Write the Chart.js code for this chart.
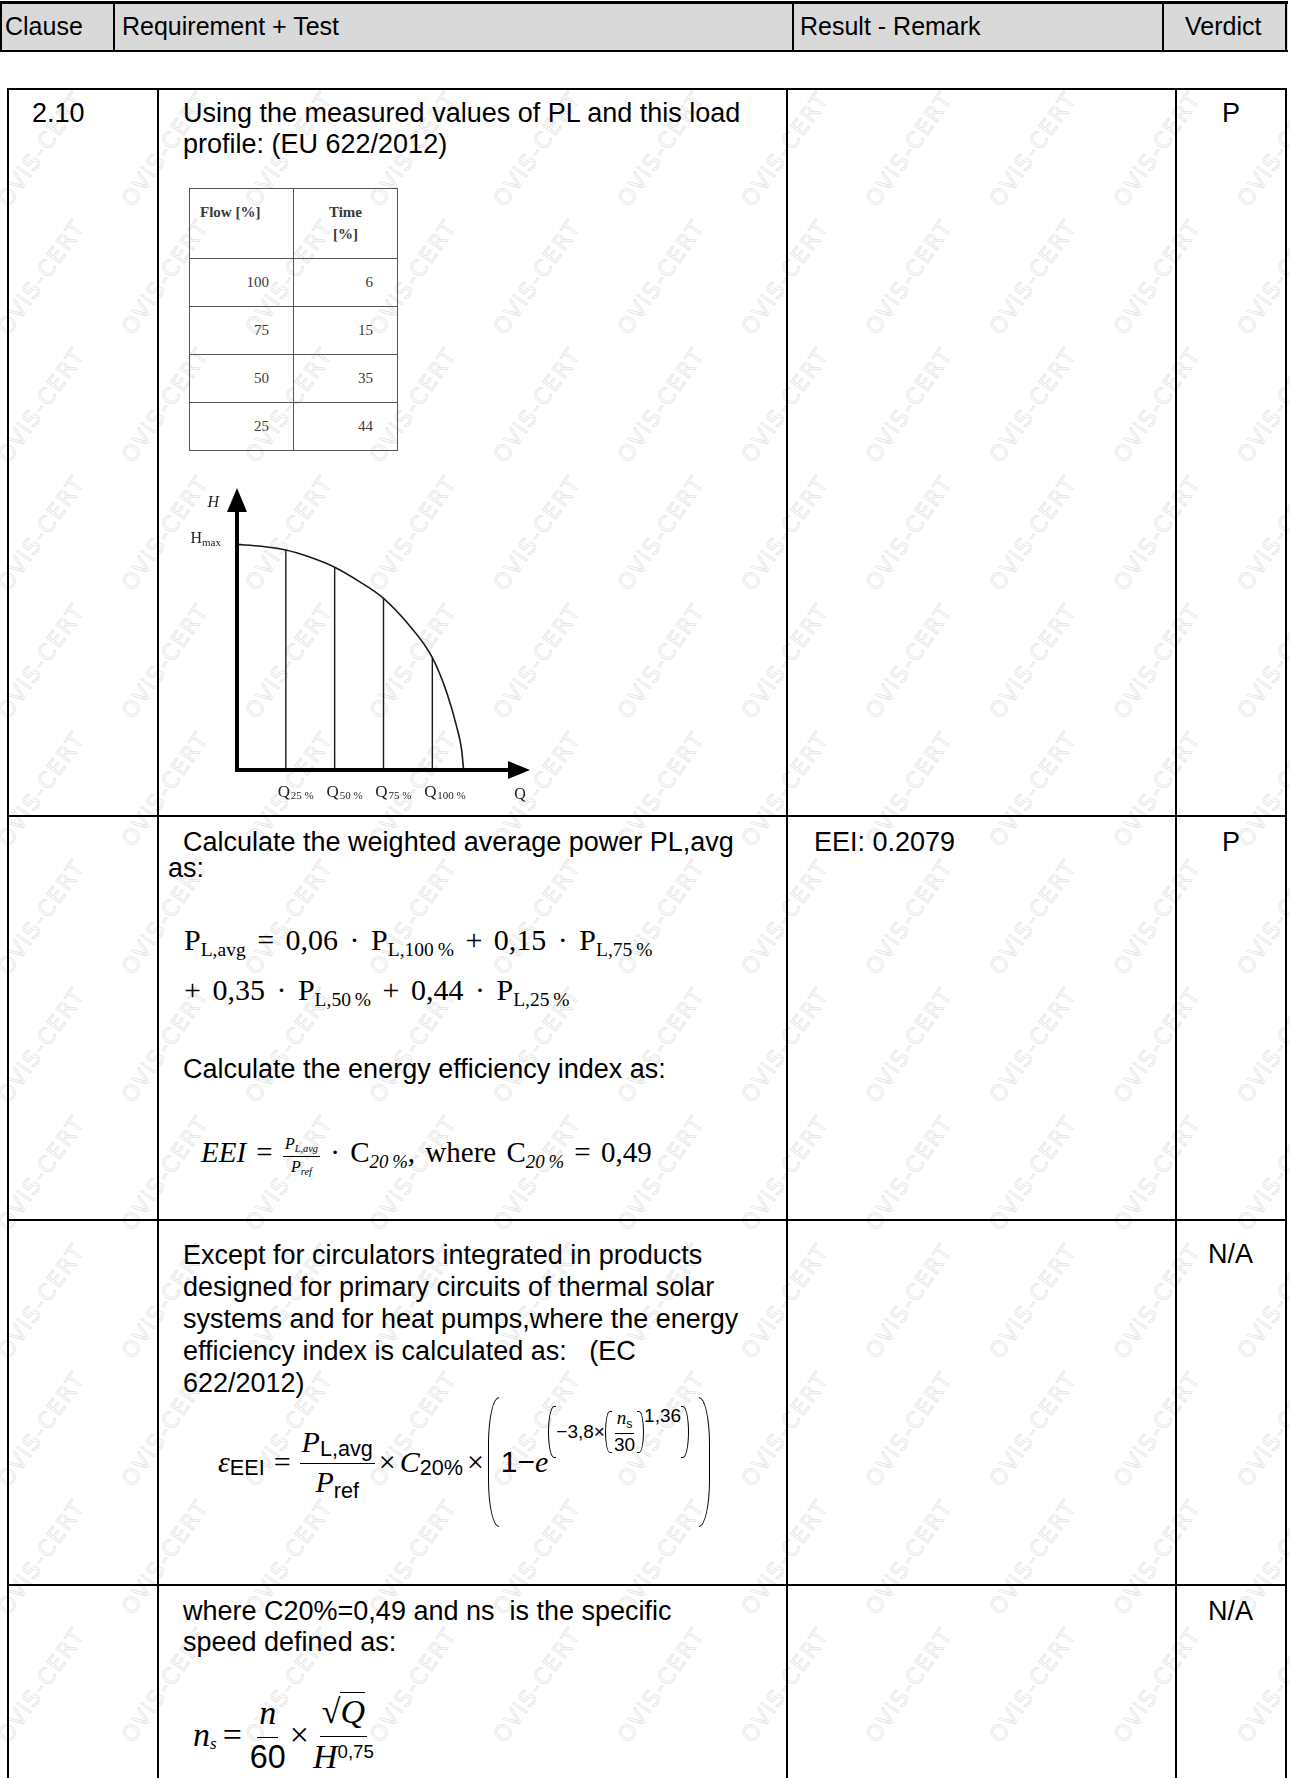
<!DOCTYPE html>
<html>
<head>
<meta charset="utf-8">
<script src="https://cdn.jsdelivr.net/npm/chart.js@4.4.0/dist/chart.umd.min.js"></script>
<style>
body{margin:0;background:#fff}
#page{position:relative;width:1290px;height:1778px;overflow:hidden;background:#fff;font-family:"Liberation Sans",Arial,sans-serif;color:#000}
.ln{position:absolute;background:#000}
.t{position:absolute;font-size:27px;line-height:31px;white-space:nowrap}
.h{position:absolute;font-size:25px;line-height:49px;top:2px;white-space:nowrap}
.wm{position:absolute;font:22px "DejaVu Sans",sans-serif;letter-spacing:2px;color:transparent;-webkit-text-stroke:0.6px #dadada;transform:translate(-50%,-50%) rotate(-55deg);white-space:nowrap}
.f{position:absolute;font-family:"Liberation Serif","Times New Roman",serif;white-space:nowrap}
.sb{font-size:.65em;position:relative;top:.3em}
.sp{font-size:.65em;position:relative;top:-.55em}
.ss{font-family:"Liberation Sans",Arial,sans-serif;font-style:normal}
.frac{display:inline-flex;flex-direction:column;align-items:center;vertical-align:middle}
.frac>span{padding:0 2px;line-height:1.2}
.frac>span:first-child{border-bottom:1.3px solid #000;padding-bottom:3px}
.bp{display:inline-block;border:1.4px solid #000;width:10px}
.bp.l{border-right:none;border-radius:14px 0 0 14px/60px 0 0 60px}
.bp.r{border-left:none;border-radius:0 14px 14px 0/0 60px 60px 0}
#flow{position:absolute;left:189px;top:188px;border-collapse:collapse;font-family:"Liberation Serif",serif;font-size:15px;color:#3a3a3a}
#flow td{border:1.5px solid #555;width:104px;padding:0 24px 0 0;text-align:right;height:48px;box-sizing:border-box}
#flow tr:first-child td{height:70px;vertical-align:top;padding-top:12px;font-weight:bold;line-height:22px}
#chartBox{position:absolute;left:190px;top:415px;width:370px;height:395px}
</style>
</head>
<body>
<div id="page">
  <div id="wms"></div>

  <!-- header -->
  <div style="position:absolute;left:0;top:1px;width:1288px;height:51px;background:#d9d9d9"></div>
  <div class="ln" style="left:0;top:1px;width:1288px;height:3px"></div>
  <div class="ln" style="left:0;top:50px;width:1288px;height:2px"></div>
  <div class="ln" style="left:0;top:1px;width:2px;height:51px"></div>
  <div class="ln" style="left:113px;top:1px;width:2px;height:51px"></div>
  <div class="ln" style="left:792px;top:1px;width:2px;height:51px"></div>
  <div class="ln" style="left:1162px;top:1px;width:2px;height:51px"></div>
  <div class="ln" style="left:1285px;top:1px;width:2px;height:51px"></div>
  <div class="h" style="left:5px">Clause</div>
  <div class="h" style="left:122px">Requirement + Test</div>
  <div class="h" style="left:800px">Result - Remark</div>
  <div class="h" style="left:1185px">Verdict</div>

  <!-- body grid -->
  <div class="ln" style="left:7px;top:88px;width:1280px;height:2px"></div>
  <div class="ln" style="left:7px;top:815px;width:1280px;height:2px"></div>
  <div class="ln" style="left:7px;top:1219px;width:1280px;height:2px"></div>
  <div class="ln" style="left:7px;top:1584px;width:1280px;height:2px"></div>
  <div class="ln" style="left:7px;top:88px;width:2px;height:1700px"></div>
  <div class="ln" style="left:157px;top:88px;width:2px;height:1700px"></div>
  <div class="ln" style="left:786px;top:88px;width:2px;height:1700px"></div>
  <div class="ln" style="left:1175px;top:88px;width:2px;height:1700px"></div>
  <div class="ln" style="left:1285px;top:88px;width:2px;height:1700px"></div>

  <!-- row 2.10 -->
  <div class="t" style="left:32px;top:98px">2.10</div>
  <div class="t" style="left:183px;top:98px">Using the measured values of PL and this load<br>profile: (EU 622/2012)</div>
  <div class="t" style="left:1222px;top:98px">P</div>
  <table id="flow"></table>
  <div id="chartBox"><canvas id="pump" width="370" height="395"></canvas></div>

  <!-- row PL,avg -->
  <div class="t" style="left:168px;top:829px;line-height:26px">&nbsp;&nbsp;Calculate the weighted average power PL,avg<br>as:</div>
  <div class="t" style="left:814px;top:827px">EEI: 0.2079</div>
  <div class="t" style="left:1222px;top:827px">P</div>
  <div class="f" style="left:184px;top:920px;font-size:30px;line-height:40px;word-spacing:4px">P<span class="sb">L,avg</span> = 0,06 · P<span class="sb">L,100&#8201;%</span> + 0,15 · P<span class="sb">L,75&#8201;%</span></div>
  <div class="f" style="left:184px;top:970px;font-size:30px;line-height:40px;word-spacing:4px">+ 0,35 · P<span class="sb">L,50&#8201;%</span> + 0,44 · P<span class="sb">L,25&#8201;%</span></div>
  <div class="t" style="left:183px;top:1054px">Calculate the energy efficiency index as:</div>
  <div class="f" style="left:201px;top:1130px;font-size:29px;line-height:44px;word-spacing:3px"><i>EEI</i> = <span class="frac" style="font-size:.55em"><span><i>P<span class="sb">L,avg</span></i></span><span><i>P<span class="sb">ref</span></i></span></span> · C<span class="sb"><i>20&#8201;%</i></span>, where C<span class="sb"><i>20&#8201;%</i></span> = 0,49</div>

  <!-- row εEEI -->
  <div class="t" style="left:183px;top:1239px;line-height:32px">Except for circulators integrated in products<br>designed for primary circuits of thermal solar<br>systems and for heat pumps,where the energy<br>efficiency index is calculated as:&nbsp;&nbsp; (EC<br>622/2012)</div>
  <div class="t" style="left:1208px;top:1239px">N/A</div>
  <div class="f" style="left:218px;top:1397px;height:130px;display:flex;align-items:center;font-size:30px">
    <i>ε</i><span class="sb ss" style="font-size:.72em;top:.3em">EEI</span>
    <span style="margin:0 9px">=</span>
    <span class="frac"><span><i>P</i><span class="sb ss" style="font-size:.72em;top:.2em">L,avg</span></span><span><i>P</i><span class="sb ss" style="font-size:.72em">ref</span></span></span>
    <span style="margin:0 4px">×</span><i>C</i><span class="sb ss" style="font-size:.72em">20%</span><span style="margin:0 4px">×</span>
    <span class="bp l" style="height:128px"></span>
    <span class="ss" style="margin-left:2px">1−</span><i>e</i>
    <span style="position:relative;top:-30px;display:inline-flex;align-items:center;font-size:19px" class="ss">
      <span class="bp l" style="height:50px;width:7px"></span>
      <span>−3,8×</span>
      <span class="bp l" style="height:40px;width:6px"></span>
      <span class="frac" style="font-family:'Liberation Serif',serif"><span><i>n</i><span class="sb ss">s</span></span><span class="ss">30</span></span>
      <span class="bp r" style="height:40px;width:6px"></span>
      <span style="position:relative;top:-16px">1,36</span>
      <span class="bp r" style="height:50px;width:7px"></span>
    </span>
    <span class="bp r" style="height:128px;margin-left:10px"></span>
  </div>

  <!-- row ns -->
  <div class="t" style="left:183px;top:1596px">where C20%=0,49 and ns&nbsp; is the specific<br>speed defined as:</div>
  <div class="t" style="left:1208px;top:1596px">N/A</div>
  <div class="f" style="left:193px;top:1693px;height:84px;display:flex;align-items:center;font-size:34px">
    <i>n</i><span class="sb" style="font-size:.5em;top:.5em"><i>s</i></span>
    <span style="margin:0 6px">=</span>
    <span class="frac"><span><i>n</i></span><span class="ss" style="font-size:.95em">60</span></span>
    <span style="margin:0 2px">×</span>
    <span class="frac"><span>√<span style="border-top:1.3px solid #000"><i>Q</i></span></span><span><i>H</i><span class="sp ss" style="font-size:.55em">0,75</span></span></span>
  </div>
</div>

<script>
// load profile table
const flowPct = [100, 75, 50, 25];
const timePct = [6, 15, 35, 44];

// pump curve H(Q) (Q in steps of Q25%, H in % of Hmax)
const qCurve = [0, 0.5, 1, 1.5, 2, 2.5, 3, 3.5, 4, 4.3, 4.5, 4.6, 4.64];
const hCurve = [100, 99.2, 97.5, 94.3, 89.9, 83.6, 76.1, 64.8, 49.8, 34, 19, 9, 0];

// the four load points
const qMarks = [1, 2, 3, 4];
const hMarks = [97.5, 89.9, 76.1, 49.8];
const qLabels = ['25 %', '50 %', '75 %', '100 %'];

const xMax = 6;
const yMax = 125;

const flow = document.getElementById('flow');
let rows = '<tr><td style="text-align:left;padding-left:10px">Flow [%]</td><td style="text-align:center;padding-right:0">Time<br>[%]</td></tr>';
for (let i = 0; i < flowPct.length; i++) {
  rows += '<tr><td>' + flowPct[i] + '</td><td>' + timePct[i] + '</td></tr>';
}
flow.innerHTML = rows;

// watermark (the row under the grey header is hidden anyway)
const wms = document.getElementById('wms');
for (let yy = 149; yy < 1800; yy += 128) {
  for (let xx = 41; xx < 1320; xx += 124) {
    const s = document.createElement('span');
    s.className = 'wm';
    s.style.left = xx + 'px';
    s.style.top = yy + 'px';
    s.textContent = 'OViS-CERT';
    wms.appendChild(s);
  }
}

const pumpAxes = {
  id: 'pumpAxes',
  afterDatasetsDraw(chart) {
    const ctx = chart.ctx;
    const x = chart.scales.x;
    const y = chart.scales.y;
    const x0 = x.getPixelForValue(0);
    const y0 = y.getPixelForValue(0);
    const xEnd = x.getPixelForValue(xMax);
    const yEnd = y.getPixelForValue(yMax);
    ctx.save();
    ctx.strokeStyle = '#000';
    ctx.fillStyle = '#000';
    ctx.lineWidth = 4;
    ctx.beginPath();
    ctx.moveTo(x0, y0 + 2);
    ctx.lineTo(x0, yEnd + 20);
    ctx.moveTo(x0 - 2, y0);
    ctx.lineTo(xEnd - 18, y0);
    ctx.stroke();
    // arrow heads
    ctx.beginPath();
    ctx.moveTo(x0, yEnd);
    ctx.lineTo(x0 - 10, yEnd + 24);
    ctx.lineTo(x0 + 10, yEnd + 24);
    ctx.closePath();
    ctx.fill();
    ctx.beginPath();
    ctx.moveTo(xEnd, y0);
    ctx.lineTo(xEnd - 22, y0 - 9);
    ctx.lineTo(xEnd - 22, y0 + 9);
    ctx.closePath();
    ctx.fill();

    ctx.fillStyle = '#222';
    ctx.textBaseline = 'alphabetic';
    ctx.font = 'italic 16px "Liberation Serif", serif';
    ctx.textAlign = 'right';
    ctx.fillText('H', x0 - 18, yEnd + 19);
    // Hmax
    const yh = y.getPixelForValue(hCurve[0]);
    ctx.font = '16px "Liberation Serif", serif';
    ctx.fillText('H', x0 - 35, yh - 1);
    ctx.font = '11px "Liberation Serif", serif';
    ctx.textAlign = 'left';
    ctx.fillText('max', x0 - 35, yh + 2);
    // Q labels
    for (let i = 0; i < qMarks.length; i++) {
      const px = x.getPixelForValue(qMarks[i]);
      ctx.font = '17px "Liberation Serif", serif';
      ctx.textAlign = 'center';
      ctx.fillText('Q', px - 2, y0 + 27);
      ctx.font = '11px "Liberation Serif", serif';
      ctx.textAlign = 'left';
      ctx.fillText(qLabels[i], px + 5, y0 + 29);
    }
    ctx.font = '16px "Liberation Serif", serif';
    ctx.textAlign = 'center';
    ctx.fillText('Q', xEnd - 10, y0 + 29);
    ctx.restore();
  }
};

const datasets = [{
  data: qCurve.map((q, i) => ({x: q, y: hCurve[i]})),
  borderColor: '#1a1a1a',
  borderWidth: 1.6,
  cubicInterpolationMode: 'monotone',
  pointRadius: 0,
  clip: false
}];
qMarks.forEach((q, i) => {
  datasets.push({
    data: [{x: q, y: 0}, {x: q, y: hMarks[i]}],
    borderColor: '#1a1a1a',
    borderWidth: 1.4,
    pointRadius: 0
  });
});

new Chart(document.getElementById('pump'), {
  type: 'line',
  data: {datasets: datasets},
  options: {
    responsive: false,
    animation: false,
    devicePixelRatio: 1,
    parsing: false,
    layout: {padding: {left: 47, right: 30, top: 73, bottom: 40}},
    plugins: {legend: {display: false}, tooltip: {enabled: false}},
    scales: {
      x: {type: 'linear', min: 0, max: xMax, display: false},
      y: {min: 0, max: yMax, display: false}
    }
  },
  plugins: [pumpAxes]
});
</script>
</body>
</html>
